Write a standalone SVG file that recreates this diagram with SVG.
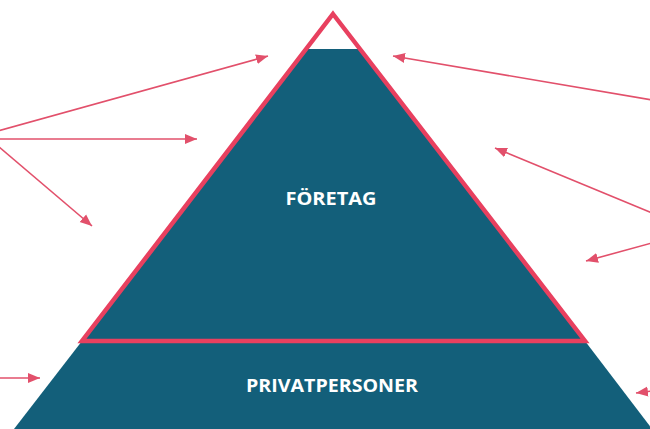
<svg xmlns="http://www.w3.org/2000/svg" width="650" height="429" viewBox="0 0 650 429">
<defs>
<style>
.teal{fill:#135f7a;}
.edge{fill:none;stroke:#e8405f;stroke-width:4.5;stroke-linejoin:miter;}
.arrow{fill:none;stroke:#e2506b;stroke-width:1.6;marker-end:url(#ah);}
.lbl{font-family:"Open Sans","Liberation Sans",sans-serif;font-weight:bold;fill:#ffffff;text-anchor:middle;font-size:18px;}
</style>
<marker id="ah" markerUnits="userSpaceOnUse" markerWidth="14" markerHeight="12" refX="12" refY="5" orient="auto" viewBox="0 0 14 10">
<path d="M0,0 L12,5 L0,10 Z" fill="#e2506b"/>
</marker>
</defs>
<rect width="650" height="429" fill="#ffffff"/>
<g id="privatpersoner">
<polygon class="teal" points="82,341 585,341 652,429 14,429"/>
<text class="lbl" x="332" y="392" textLength="172" lengthAdjust="spacingAndGlyphs">PRIVATPERSONER</text>
</g>
<g id="foretag">
<polygon class="teal" points="306,49 360,49 585,341 82,341"/>
<polygon class="edge" points="333,14 585,341 82,341"/>
<text class="lbl" x="331" y="205" textLength="91" lengthAdjust="spacingAndGlyphs">FÖRETAG</text>
</g>
<g id="connectors">
<line class="arrow" x1="-2" y1="131" x2="268" y2="56"/>
<line class="arrow" x1="-2" y1="139" x2="197" y2="139"/>
<line class="arrow" x1="-2" y1="146" x2="92" y2="226"/>
<line class="arrow" x1="652" y1="100" x2="393" y2="56"/>
<line class="arrow" x1="652" y1="213" x2="495" y2="148"/>
<line class="arrow" x1="652" y1="243" x2="586" y2="261"/>
<line class="arrow" x1="-2" y1="378" x2="40" y2="378"/>
<line class="arrow" x1="652" y1="391" x2="636" y2="393"/>
</g>
</svg>
